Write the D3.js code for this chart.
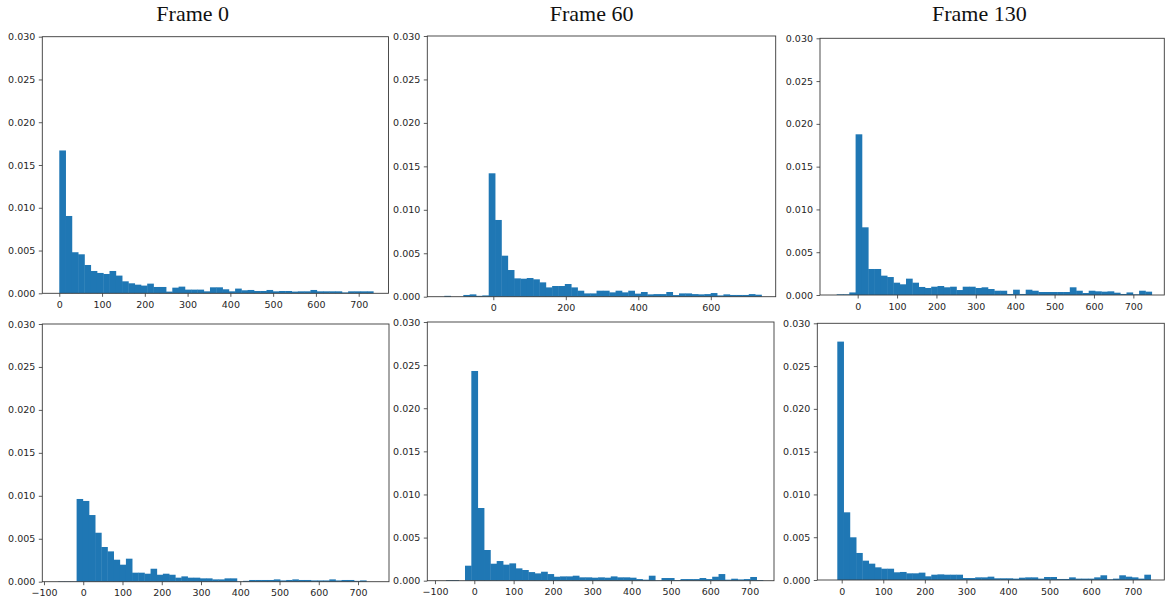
<!DOCTYPE html>
<html>
<head>
<meta charset="utf-8">
<script src="https://cdn.jsdelivr.net/npm/d3@7"></script>
<style>
body{ margin:0; background:#fff; }
.tick text{ font-family:"DejaVu Sans", sans-serif; font-size:9.5px; fill:#262626; }
.tick line{ stroke:#333; stroke-width:0.8; }
.title{ font-family:"Liberation Serif", "Times New Roman", serif; font-size:22px; fill:#111; }
.frame{ fill:none; stroke:#3a3a3a; stroke-width:0.9; }
.bar{ fill:#1f77b4; }
</style>
</head>
<body>
<svg id="chart" width="1175" height="605"></svg>
<script>
// ---- data ----
var frameTitles = ["Frame 0", "Frame 60", "Frame 130"];
var yTicks = [0, 0.005, 0.010, 0.015, 0.020, 0.025, 0.030];

// histogram bin range (first edge, last edge), 50 bins each
var binRanges = [[0, 734], [-135.2, 739.7], [-53.3, 746.6], [-64, 721], [-72, 733.8], [-10.6, 743]];

var xTicksList = [
	[0, 100, 200, 300, 400, 500, 600, 700],
	[0, 200, 400, 600],
	[0, 100, 200, 300, 400, 500, 600, 700],
	[-100, 0, 100, 200, 300, 400, 500, 600, 700],
	[-100, 0, 100, 200, 300, 400, 500, 600, 700],
	[0, 100, 200, 300, 400, 500, 600, 700]
];

var frame0Top = [0.0167, 0.00904, 0.0048, 0.00456, 0.00331, 0.00261, 0.00238, 0.00226, 0.00261, 0.00207,
	0.0014, 0.00117, 0.00101, 0.0009, 0.00113, 0.00074, 0.00074, 0.0002, 0.00066, 0.00078,
	0.00043, 0.00043, 0.00043, 0.00023, 0.0007, 0.0007, 0.00047, 0.00023, 0.00055, 0.00035,
	0.00039, 0.00027, 0.00027, 0.00039, 0.00023, 0.00027, 0.00027, 0.0002, 0.00023, 0.00023,
	0.00039, 0.00023, 0.00023, 0.00023, 0.00023, 0.0001, 0.00023, 0.00023, 0.00023, 0.00023];
var frame60Top = [0.0001, 0, 0, 0.0002, 0.00027, 0.0001, 0.00015, 0.0142, 0.00883, 0.00472,
	0.00307, 0.00211, 0.00207, 0.00215, 0.002, 0.00165, 0.00107, 0.00123, 0.00123, 0.00146,
	0.00107, 0.00069, 0.00038, 0.00038, 0.00069, 0.00069, 0.0005, 0.00069, 0.0005, 0.00069,
	0.00035, 0.00054, 0.00027, 0.0003, 0.0003, 0.00054, 0.00019, 0.00038, 0.00038, 0.0003,
	0.00027, 0.0003, 0.00042, 0.00015, 0.00027, 0.0002, 0.0002, 0.0002, 0.0003, 0.00023];
var frame130Top = [0.00008, 0.00008, 0.0003, 0.01878, 0.00791, 0.00304, 0.00304, 0.00226, 0.0021, 0.00144,
	0.00125, 0.00191, 0.00144, 0.00094, 0.00082, 0.00097, 0.00105, 0.0009, 0.00097, 0.00058,
	0.00097, 0.00097, 0.00082, 0.0009, 0.0007, 0.0005, 0.0005, 0.00012, 0.00062, 0.00012,
	0.00062, 0.0005, 0.00035, 0.00035, 0.00035, 0.00035, 0.00035, 0.0009, 0.0005, 0.00023,
	0.0005, 0.00043, 0.00039, 0.00043, 0.00027, 0.00012, 0.0003, 0.00008, 0.0005, 0.00039];
var frame0Bottom = [0.00004, 0.00004, 0.00004, 0.00963, 0.0094, 0.00776, 0.0057, 0.00404, 0.00353, 0.00256,
	0.00198, 0.00268, 0.00105, 0.00105, 0.00093, 0.00151, 0.00081, 0.00093, 0.00081, 0.00047,
	0.00062, 0.00047, 0.00047, 0.00039, 0.00039, 0.00027, 0.00027, 0.00039, 0.00039, 0.00003,
	0.0001, 0.0002, 0.0002, 0.0002, 0.0002, 0.00027, 0.00015, 0.0002, 0.00027, 0.0002,
	0.0002, 0.00015, 0.00015, 0.00015, 0.00027, 0.00015, 0.0002, 0.0002, 0.0001, 0.00015];
var frame60Bottom = [0.00008, 0.00008, 0, 0.00174, 0.02432, 0.00843, 0.00356, 0.00197, 0.00228, 0.00186,
	0.00201, 0.00143, 0.00124, 0.001, 0.00085, 0.00104, 0.00077, 0.00046, 0.0005, 0.0005,
	0.00058, 0.00039, 0.00039, 0.00035, 0.00039, 0.00035, 0.0005, 0.00039, 0.00039, 0.00035,
	0.00019, 0.00012, 0.00058, 0.00004, 0.00031, 0.00031, 0.00008, 0.00019, 0.00019, 0.00019,
	0.00031, 0.00019, 0.00046, 0.00077, 0.00012, 0.00023, 0.00015, 0.00019, 0.00043, 0.00008];
var frame130Bottom = [0.02786, 0.00791, 0.00499, 0.00316, 0.00226, 0.00191, 0.00148, 0.00132, 0.00132, 0.0009,
	0.00094, 0.00078, 0.00078, 0.00086, 0.00043, 0.00062, 0.00066, 0.00062, 0.00062, 0.00062,
	0.00023, 0.00023, 0.00031, 0.00031, 0.00039, 0.0002, 0.0002, 0.0002, 0.00016, 0.00027,
	0.00031, 0.00031, 0.00016, 0.00035, 0.00035, 0.00012, 0.00012, 0.00031, 0.00016, 0.00016,
	0.00016, 0.00031, 0.00055, 0.00008, 0.00016, 0.00055, 0.00039, 0.00031, 0.00016, 0.00062];

var densities = [frame0Top, frame60Top, frame130Top, frame0Bottom, frame60Bottom, frame130Bottom];

// ---- layout (pixel boxes of each axes, and the x limits shown) ----
var boxes = [
	{left: 42.3,  right: 388.5,  top: 36.7, bottom: 293.3, xlim: [-39.7, 769.7]},
	{left: 427.3, right: 775.7,  top: 36,   bottom: 296.7, xlim: [-182.1, 779]},
	{left: 820,   right: 1164.3, top: 38.3, bottom: 295,   xlim: [-95.7, 778.6]},
	{left: 42.3,  right: 389,    top: 324,  bottom: 581.7, xlim: [-104.3, 778.9]},
	{left: 427.3, right: 774,    top: 322,  bottom: 580.7, xlim: [-119.5, 762]},
	{left: 817.3, right: 1164.3, top: 323.3, bottom: 580,  xlim: [-58.7, 776]}
];
var titlePos = [[192.7, 20.5], [591.6, 20.5], [979.4, 20.5]];
var NBins = 50;

var svg = d3.select("#chart");

function drawPanel(idx){
	var box = boxes[idx], values = densities[idx], range = binRanges[idx];
	var x = d3.scaleLinear().domain(box.xlim).range([box.left, box.right]);
	var y = d3.scaleLinear().domain([0, 0.03]).range([box.bottom, box.top]);
	var step = (range[1] - range[0]) / NBins;
	var bins = values.map(function(v, i){
		return {x0: range[0] + step * i, x1: range[0] + step * (i + 1), v: v};
	});
	var g = svg.append("g").attr("class", "panel");

	g.selectAll(".bar").data(bins).enter().append("rect")
			.attr("class", "bar")
			.attr("x", function(d){ return x(d.x0); })
			.attr("width", function(d){ return x(d.x1) - x(d.x0) + 0.4; })
			.attr("y", function(d){ return y(d.v); })
			.attr("height", function(d){ return y(0) - y(d.v); });

	var xAxis = d3.axisBottom(x).tickValues(xTicksList[idx]).tickFormat(d3.format("d"))
			.tickSize(3.5).tickPadding(4.5);
	g.append("g").attr("transform", "translate(0," + box.bottom + ")").call(xAxis)
			.call(function(a){ a.select(".domain").remove(); });

	var yAxis = d3.axisLeft(y).tickValues(yTicks).tickFormat(d3.format(".3f"))
			.tickSize(3.5).tickPadding(3.5);
	g.append("g").attr("transform", "translate(" + box.left + ",0)").call(yAxis)
			.call(function(a){ a.select(".domain").remove(); });

	g.append("rect").attr("class", "frame")
			.attr("x", box.left).attr("y", box.top)
			.attr("width", box.right - box.left).attr("height", box.bottom - box.top);
}

d3.range(boxes.length).forEach(drawPanel);

svg.selectAll(".title").data(frameTitles).enter().append("text")
		.attr("class", "title")
		.attr("text-anchor", "middle")
		.attr("x", function(d, i){ return titlePos[i][0]; })
		.attr("y", function(d, i){ return titlePos[i][1]; })
		.text(function(d){ return d; });
</script>
</body>
</html>
